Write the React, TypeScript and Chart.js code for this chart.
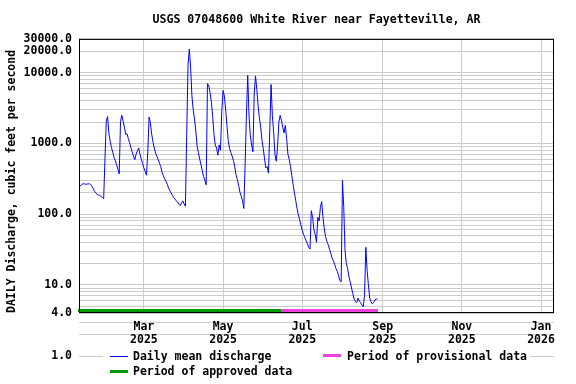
import React, { useEffect, useRef } from 'react';
import { Chart, registerables } from 'chart.js';

Chart.register(...registerables);

// ---------- text ----------
const chartTitle = 'USGS 07048600 White River near Fayetteville, AR';
const yAxisTitle = 'DAILY Discharge, cubic feet per second';
const seriesLabel = 'Daily mean discharge';
const approvedLabel = 'Period of approved data';
const provisionalLabel = 'Period of provisional data';

// ---------- dates ----------
const firstDay = '2025-01-10';
const axisEnd = '2026-01-11';
const monthTickDates = ['2025-03-01', '2025-05-01', '2025-07-01', '2025-09-01', '2025-11-01', '2026-01-01'];
const monthTickLabels = [
  ['Mar', '2025'],
  ['May', '2025'],
  ['Jul', '2025'],
  ['Sep', '2025'],
  ['Nov', '2025'],
  ['Jan', '2026'],
];
const approvedPeriod = ['2025-01-10', '2025-06-14'];
const provisionalPeriod = ['2025-06-15', '2025-08-28'];

// ---------- daily mean discharge (cfs), one value per day from Jan 10, 2025 ----------
const janValues = [255, 250, 262, 268, 268, 265, 265, 268, 268, 262, 248, 228, 210, 198, 190, 187, 183, 178, 172, 165, 600, 2050];
const febValues = [2400, 1400, 1070, 870, 750, 630, 570, 500, 430, 370, 2050, 2500, 2050, 1700, 1340, 1370, 1170, 1020, 870, 760, 660, 590, 700, 790, 860, 700, 600, 520];
const marValues = [450, 400, 355, 760, 2350, 1950, 1350, 1050, 860, 730, 660, 590, 525, 470, 390, 350, 315, 292, 265, 235, 213, 200, 183, 171, 163, 154, 147, 138, 132, 144, 154];
const aprValues = [139, 129, 1340, 12800, 21500, 12000, 4700, 3000, 2200, 1500, 920, 740, 600, 500, 410, 340, 300, 260, 7000, 6500, 5200, 3800, 2400, 1350, 950, 860, 680, 950, 800, 2800];
const mayValues = [5600, 4700, 3000, 1800, 1100, 850, 740, 660, 574, 470, 360, 308, 255, 205, 180, 155, 120, 500, 2500, 9200, 2500, 1300, 950, 760, 5000, 9000, 5800, 3400, 2300, 1700, 1100];
const junValues = [840, 600, 450, 470, 380, 1500, 6800, 2500, 1400, 700, 560, 900, 2000, 2490, 2100, 1700, 1400, 1800, 1160, 700, 590, 470, 350, 260, 200, 155, 120, 98, 83, 70];
const julValues = [59, 52, 46.5, 42, 38, 34, 32, 112, 90, 60, 52, 40, 90, 80, 125, 150, 90, 62, 48, 41, 37, 32, 28, 24, 22, 19.5, 17, 15.5, 13.5, 11.5, 11];
const augValues = [300, 125, 30, 20, 17, 13, 11, 9, 7.5, 6.3, 5.8, 5.6, 6.5, 5.9, 5.6, 5.2, 4.9, 7, 34, 16, 10, 6.5, 5.8, 5.4, 5.6, 6.1, 6.3, 6.3];

// ---------- y axis ----------
const yMin = 4;
const yMax = 30000;
const yTickValues = [4, 10, 100, 1000, 10000, 20000, 30000];
const yTickLabels = ['4.0', '10.0', '100.0', '1000.0', '10000.0', '20000.0', '30000.0'];
const belowAxisGridValues = [3, 2, 1];
const belowAxisLabelValues = [1];
const belowAxisLabels = ['1.0'];

// ---------- styles ----------
const FONT_FAMILY = "'DejaVu Sans Mono', monospace";
const GRID_COLOR = '#cccccc';
const SERIES_COLOR = '#0000ff';
const APPROVED_COLOR = '#009900';
const PROVISIONAL_COLOR = '#ee44dd';

const DAY_MS = 86400000;
const dayOf = (iso: string) =>
  Math.round((Date.parse(iso + 'T00:00:00Z') - Date.parse(firstDay + 'T00:00:00Z')) / DAY_MS);

const dailyValues = [
  ...janValues, ...febValues, ...marValues, ...aprValues,
  ...mayValues, ...junValues, ...julValues, ...augValues,
];

const gridValues: number[] = [];
for (let e = 0; e <= 4; e++) {
  for (let m = 1; m <= 9; m++) {
    const v = m * Math.pow(10, e);
    if (v >= yMin && v <= yMax) gridValues.push(v);
  }
}

const extrasPlugin = {
  id: 'usgsExtras',
  beforeDraw(chart: any) {
    const { ctx, chartArea: a, scales } = chart;
    const y = scales.y;
    ctx.save();
    ctx.strokeStyle = GRID_COLOR;
    ctx.lineWidth = 1;
    for (const v of belowAxisGridValues) {
      const py = Math.round(y.getPixelForValue(v)) + 0.5;
      ctx.beginPath();
      ctx.moveTo(a.left, py);
      ctx.lineTo(a.right, py);
      ctx.stroke();
    }
    ctx.restore();
  },
  afterDraw(chart: any) {
    const { ctx, chartArea: a, scales } = chart;
    const x = scales.x;
    const y = scales.y;
    ctx.save();

    // period bars along the bottom of the plot
    const drawPeriod = (period: string[], color: string) => {
      const x0 = Math.round(x.getPixelForValue(dayOf(period[0]) - 0.5));
      const x1 = Math.round(x.getPixelForValue(dayOf(period[1]) + 0.5));
      ctx.fillStyle = color;
      ctx.fillRect(x0, a.bottom - 4, x1 - x0, 3);
    };
    drawPeriod(approvedPeriod, APPROVED_COLOR);
    drawPeriod(provisionalPeriod, PROVISIONAL_COLOR);

    // frame
    ctx.strokeStyle = '#000000';
    ctx.lineWidth = 1;
    ctx.strokeRect(a.left + 0.5, a.top + 0.5, a.width - 1, a.height - 1);

    // label below the axis
    ctx.font = `bold 11.5px ${FONT_FAMILY}`;
    ctx.fillStyle = '#000000';
    ctx.textAlign = 'right';
    ctx.textBaseline = 'middle';
    belowAxisLabelValues.forEach((v, i) => {
      ctx.fillText(belowAxisLabels[i], a.left - 7, y.getPixelForValue(v));
    });

    // legend
    const lx = a.left;
    const ly = a.bottom;
    ctx.fillStyle = '#ffffff';
    ctx.fillRect(lx + 24, ly + 32, 427, 36);

    ctx.strokeStyle = SERIES_COLOR;
    ctx.beginPath();
    ctx.moveTo(lx + 31, ly + 43.5);
    ctx.lineTo(lx + 49, ly + 43.5);
    ctx.stroke();

    ctx.fillStyle = PROVISIONAL_COLOR;
    ctx.fillRect(lx + 244, ly + 41, 18, 3);
    ctx.fillStyle = APPROVED_COLOR;
    ctx.fillRect(lx + 31, ly + 57, 18, 3);

    ctx.fillStyle = '#000000';
    ctx.textAlign = 'left';
    ctx.fillText(seriesLabel, lx + 54, ly + 44);
    ctx.fillText(provisionalLabel, lx + 268, ly + 44);
    ctx.fillText(approvedLabel, lx + 54, ly + 59.5);

    ctx.restore();
  },
};

export default function App() {
  const canvasRef = useRef<HTMLCanvasElement | null>(null);

  useEffect(() => {
    document.body.style.margin = '0';
    const canvas = canvasRef.current;
    if (!canvas) return;

    const tickFont = { family: FONT_FAMILY, size: 11.5, weight: 'bold' as const };

    const chart = new Chart(canvas, {
      type: 'line',
      data: {
        datasets: [
          {
            label: seriesLabel,
            data: dailyValues.map((v, i) => ({ x: i, y: v })),
            borderColor: SERIES_COLOR,
            backgroundColor: SERIES_COLOR,
            borderWidth: 1,
            pointRadius: 0,
            tension: 0,
            fill: false,
          },
        ],
      },
      options: {
        responsive: false,
        animation: false,
        events: [],
        layout: { padding: { left: 0, right: 22, top: 0, bottom: 0 } },
        plugins: {
          legend: { display: false },
          tooltip: { enabled: false },
          title: {
            display: true,
            text: chartTitle,
            color: '#000000',
            fullSize: false,
            font: { family: FONT_FAMILY, size: 11.6, weight: 'bold' },
            padding: { top: 13, bottom: 12 },
          },
        },
        scales: {
          x: {
            type: 'linear',
            min: 0,
            max: dayOf(axisEnd),
            afterBuildTicks: (scale: any) => {
              scale.ticks = monthTickDates.map((d) => ({ value: dayOf(d) }));
            },
            afterFit: (scale: any) => {
              scale.height = 71;
            },
            grid: { color: GRID_COLOR, lineWidth: 1, drawTicks: false },
            border: { display: false },
            ticks: {
              autoSkip: false,
              maxRotation: 0,
              minRotation: 0,
              padding: 7,
              color: '#000000',
              font: { ...tickFont, lineHeight: 1.16 },
              callback: (_v: any, i: number) => monthTickLabels[i],
            },
          },
          y: {
            type: 'logarithmic',
            min: yMin,
            max: yMax,
            afterBuildTicks: (scale: any) => {
              scale.ticks = gridValues.map((v) => ({ value: v }));
            },
            afterFit: (scale: any) => {
              scale.width = 79;
            },
            grid: { color: GRID_COLOR, lineWidth: 1, drawTicks: false },
            border: { display: false },
            ticks: {
              autoSkip: false,
              padding: 7,
              color: '#000000',
              font: tickFont,
              callback: (v: any) => {
                const i = yTickValues.indexOf(Number(v));
                return i >= 0 ? yTickLabels[i] : '';
              },
            },
            title: {
              display: true,
              text: yAxisTitle,
              color: '#000000',
              align: 'start',
              font: tickFont,
              padding: { top: 5, bottom: 0 },
            },
          },
        },
      },
      plugins: [extrasPlugin],
    });

    return () => chart.destroy();
  }, []);

  return (
    <div style={{ width: 576, height: 384 }}>
      <canvas ref={canvasRef} width={576} height={384} />
    </div>
  );
}
